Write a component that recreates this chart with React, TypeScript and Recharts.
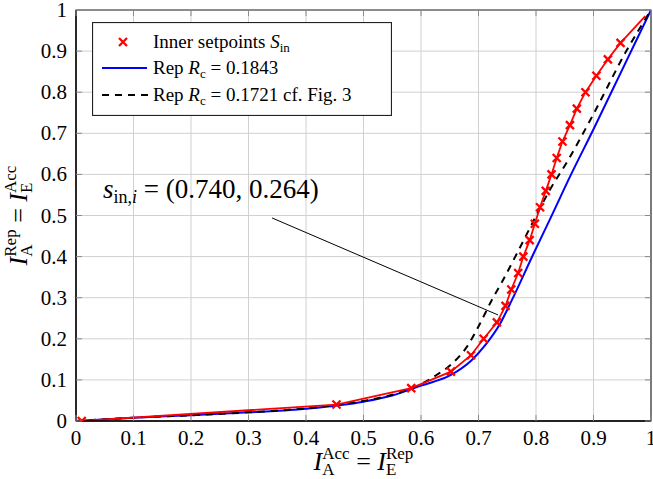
import {
  LineChart,
  Line,
  XAxis,
  YAxis,
  CartesianGrid,
  ReferenceArea,
  ReferenceLine,
  ReferenceDot,
  Legend,
} from "recharts";

// axis ticks
const TICKS = [0, 0.1, 0.2, 0.3, 0.4, 0.5, 0.6, 0.7, 0.8, 0.9, 1];
const TICK_LABELS = ["0", "0.1", "0.2", "0.3", "0.4", "0.5", "0.6", "0.7", "0.8", "0.9", "1"];

// inner setpoints (red x)
const SET_X = [0.01, 0.453, 0.583, 0.652, 0.687, 0.709, 0.732, 0.747, 0.757, 0.769, 0.778, 0.789, 0.798, 0.807, 0.817, 0.827, 0.836, 0.846, 0.859, 0.871, 0.886, 0.905, 0.925, 0.947];
const SET_Y = [0, 0.04, 0.08, 0.12, 0.16, 0.2, 0.24, 0.28, 0.32, 0.36, 0.4, 0.44, 0.48, 0.52, 0.56, 0.6, 0.64, 0.68, 0.72, 0.76, 0.8, 0.84, 0.88, 0.92];
const RED_END_X = [0.99];
const RED_END_Y = [0.985];

// Rep Rc = 0.1843
const BLUE_X = [0, 0.1, 0.2, 0.3, 0.4, 0.5, 0.55, 0.6, 0.652, 0.688, 0.712, 0.738, 0.758, 0.795, 0.824, 0.861, 0.9, 0.95, 1];
const BLUE_Y = [0, 0.008, 0.014, 0.021, 0.03, 0.047, 0.062, 0.086, 0.112, 0.148, 0.185, 0.238, 0.294, 0.405, 0.49, 0.6, 0.71, 0.855, 1];

// Rep Rc = 0.1721 cf. Fig. 3
const BLACK_X = [0, 0.1, 0.2, 0.3, 0.4, 0.5, 0.55, 0.6, 0.627, 0.652, 0.68, 0.703, 0.723, 0.74, 0.767, 0.795, 0.824, 0.856, 0.9, 0.957, 1];
const BLACK_Y = [0, 0.008, 0.014, 0.021, 0.031, 0.049, 0.064, 0.09, 0.112, 0.137, 0.181, 0.238, 0.294, 0.336, 0.408, 0.485, 0.562, 0.635, 0.747, 0.9, 1];

// annotation s_in,i = (0.740, 0.264)
const ANNOT_TAIL = [0.341, 0.494];
const ANNOT_HEAD = [0.734, 0.258];
const ANNOT_TEXT_AT = [0.047, 0.543];

const FONT = "'Liberation Serif', 'Times New Roman', serif";
const PLOT_TOP = 10;
const PLOT_RIGHT = 651;
const TICK_MARK = "#8a8a8a";

const redData = [...SET_X, ...RED_END_X].map((x, i) => ({ x, y: [...SET_Y, ...RED_END_Y][i] }));
const blueData = BLUE_X.map((x, i) => ({ x, y: BLUE_Y[i] }));
const blackData = BLACK_X.map((x, i) => ({ x, y: BLACK_Y[i] }));

function XTick(props: any) {
  const { x, y, payload } = props;
  const label = TICK_LABELS[TICKS.indexOf(payload.value)];
  return (
    <g>
      <line x1={x} x2={x} y1={y} y2={y - 6} stroke={TICK_MARK} />
      <line x1={x} x2={x} y1={PLOT_TOP} y2={PLOT_TOP + 6} stroke={TICK_MARK} />
      <text x={x} y={y + 24} textAnchor="middle" fontFamily={FONT} fontSize={21} fill="#000">
        {label}
      </text>
    </g>
  );
}

function YTick(props: any) {
  const { x, y, payload } = props;
  const label = TICK_LABELS[TICKS.indexOf(payload.value)];
  return (
    <g>
      <line x1={x} x2={x + 6} y1={y} y2={y} stroke={TICK_MARK} />
      <line x1={PLOT_RIGHT} x2={PLOT_RIGHT - 6} y1={y} y2={y} stroke={TICK_MARK} />
      <text x={x - 9} y={y + 7} textAnchor="end" fontFamily={FONT} fontSize={21} fill="#000">
        {label}
      </text>
    </g>
  );
}

// I_{a}^{b} = I_{c}^{d}, sub and sup stacked
function MathPair({ subA, supA, subB, supB }: { subA: string; supA: string; subB: string; supB: string }) {
  const w = (s: string) => (s === "A" ? 12.3 : 10.4);
  return (
    <>
      <tspan fontStyle="italic" fontSize={26}>I</tspan>
      <tspan fontSize={17} dy={5}>{subA}</tspan>
      <tspan fontSize={17} dx={-w(subA)} dy={-16}>{supA}</tspan>
      <tspan fontSize={26} dy={11} style={{ whiteSpace: "pre" }}>{" = "}</tspan>
      <tspan fontStyle="italic" fontSize={26}>I</tspan>
      <tspan fontSize={17} dy={5}>{subB}</tspan>
      <tspan fontSize={17} dx={-w(subB)} dy={-16}>{supB}</tspan>
    </>
  );
}

const renderXLabel = (props: any) => {
  const vb = props.viewBox;
  return (
    <text x={vb.x + vb.width / 2} y={vb.y + 49} textAnchor="middle" fontFamily={FONT} fill="#000">
      <MathPair subA="A" supA="Acc" subB="E" supB="Rep" />
    </text>
  );
};

const renderYLabel = (props: any) => {
  const vb = props.viewBox;
  const cx = 27;
  const cy = vb.y + vb.height / 2;
  return (
    <text x={cx} y={cy} textAnchor="middle" fontFamily={FONT} fill="#000" transform={`rotate(-90, ${cx}, ${cy})`}>
      <MathPair subA="A" supA="Rep" subB="E" supB="Acc" />
    </text>
  );
};

const renderAnnotation = (props: any) => {
  const vb = props.viewBox;
  return (
    <text x={vb.x} y={vb.y} fontFamily={FONT} fontSize={27} fill="#000" style={{ whiteSpace: "pre" }}>
      <tspan fontStyle="italic">s</tspan>
      <tspan fontSize={18} dy={5}>in,</tspan>
      <tspan fontSize={18} fontStyle="italic">i</tspan>
      <tspan dy={-5}>{" = (0.740, 0.264)"}</tspan>
    </text>
  );
};

const renderCross = (props: any) => {
  const { cx, cy, index } = props;
  if (index >= SET_X.length || cx == null) return <g key={`c${index}`} />;
  const s = 4;
  return (
    <path
      key={`c${index}`}
      d={`M${cx - s},${cy - s}L${cx + s},${cy + s}M${cx - s},${cy + s}L${cx + s},${cy - s}`}
      stroke="#ff0000"
      strokeWidth={2.3}
      fill="none"
    />
  );
};

const renderLegend = () => (
  <svg width={300} height={94} style={{ display: "block" }}>
    <rect x={0.5} y={0.5} width={299} height={93} fill="#fff" stroke="#222" strokeWidth={1.2} />
    <path d="M27,16L35,24M27,24L35,16" stroke="#ff0000" strokeWidth={2.3} />
    <text x={61} y={26} fontFamily={FONT} fontSize={19} fill="#000" style={{ whiteSpace: "pre" }}>
      {"Inner setpoints "}
      <tspan fontStyle="italic">S</tspan>
      <tspan fontSize={13} dy={4}>in</tspan>
    </text>
    <line x1={10} x2={55} y1={46} y2={46} stroke="#0000ff" strokeWidth={2} />
    <text x={61} y={52} fontFamily={FONT} fontSize={19} fill="#000" style={{ whiteSpace: "pre" }}>
      {"Rep "}
      <tspan fontStyle="italic">R</tspan>
      <tspan fontSize={13} dy={4}>c</tspan>
      <tspan dy={-4}>{" = 0.1843"}</tspan>
    </text>
    <line x1={10} x2={58} y1={73} y2={73} stroke="#000" strokeWidth={2} strokeDasharray="7 6" />
    <text x={61} y={79} fontFamily={FONT} fontSize={19} fill="#000" style={{ whiteSpace: "pre" }}>
      {"Rep "}
      <tspan fontStyle="italic">R</tspan>
      <tspan fontSize={13} dy={4}>c</tspan>
      <tspan dy={-4}>{" = 0.1721 cf. Fig. 3"}</tspan>
    </text>
  </svg>
);

export default function App() {
  return (
    <div style={{ position: "absolute", left: 0, top: 0, background: "#fff" }}>
      <LineChart width={653} height={479} margin={{ top: PLOT_TOP, right: 653 - PLOT_RIGHT, bottom: 0, left: 0 }}>
        <CartesianGrid stroke="#d0d0d0" strokeWidth={1} />
        <XAxis
          type="number"
          dataKey="x"
          domain={[0, 1]}
          ticks={TICKS}
          interval={0}
          allowDataOverflow
          height={58}
          tickSize={0}
          tickMargin={0}
          tickLine={false}
          tick={(p: any) => <XTick {...p} />}
          axisLine={{ stroke: "#000", strokeWidth: 1.3 }}
          label={{ content: renderXLabel }}
        />
        <YAxis
          type="number"
          dataKey="y"
          domain={[0, 1]}
          ticks={TICKS}
          interval={0}
          allowDataOverflow
          width={76}
          tickSize={0}
          tickMargin={0}
          tickLine={false}
          tick={(p: any) => <YTick {...p} />}
          axisLine={{ stroke: "#000", strokeWidth: 1.3 }}
          label={{ content: renderYLabel }}
        />
        <ReferenceArea x1={0} x2={1} y1={0} y2={1} fill="none" stroke="#333" strokeWidth={1.2} />
        <ReferenceLine
          segment={[
            { x: ANNOT_TAIL[0], y: ANNOT_TAIL[1] },
            { x: ANNOT_HEAD[0], y: ANNOT_HEAD[1] },
          ]}
          stroke="#000"
          strokeWidth={1}
        />
        <ReferenceDot x={ANNOT_TEXT_AT[0]} y={ANNOT_TEXT_AT[1]} r={0} stroke="none" fill="none" label={{ content: renderAnnotation }} />
        <Line data={blueData} dataKey="y" type="monotone" stroke="#0000ff" strokeWidth={2} dot={false} isAnimationActive={false} />
        <Line data={blackData} dataKey="y" type="monotone" stroke="#000" strokeWidth={2} strokeDasharray="7 6" dot={false} isAnimationActive={false} />
        <Line data={redData} dataKey="y" type="linear" stroke="#ff0000" strokeWidth={1.8} dot={renderCross} activeDot={false} isAnimationActive={false} />
        <Legend
          content={renderLegend}
          layout="horizontal"
          verticalAlign="middle"
          align="center"
          wrapperStyle={{ left: 92, top: 22, width: 300, height: 94 }}
        />
      </LineChart>
    </div>
  );
}
